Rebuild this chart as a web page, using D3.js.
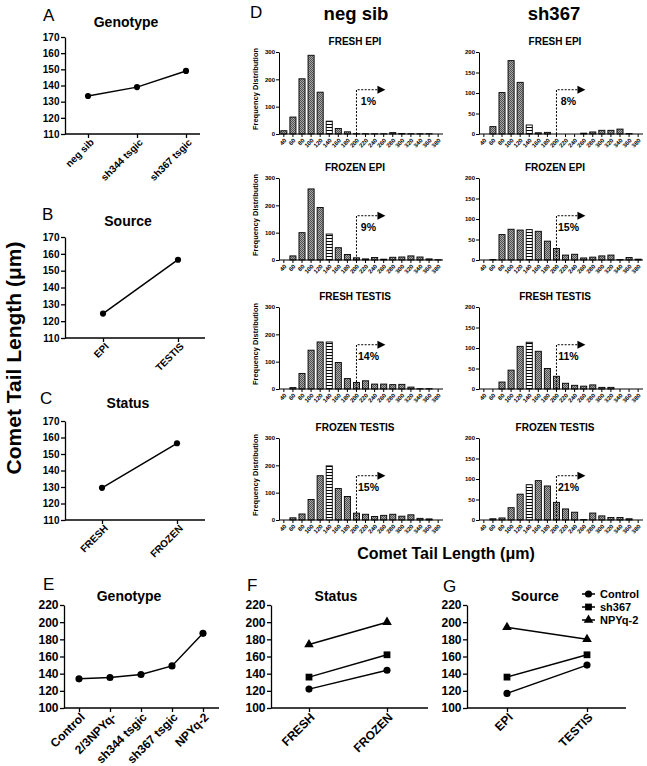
<!DOCTYPE html>
<html><head><meta charset="utf-8">
<script src="https://cdn.jsdelivr.net/npm/d3@7"></script>
<style>
body{margin:0;background:#fff;}
svg{display:block;font-family:Arial,"Liberation Sans",sans-serif;}
</style></head><body>
<svg id="c" width="647" height="766"></svg>
<script>
// ---------- DATA ----------
const genoA = ["neg sib", "sh344 tsgic", "sh367 tsgic"];
const genoAVals = [133.5, 139, 149];
const sourceCats = ["EPI", "TESTIS"];
const sourceVals = [124.5, 156.5];
const statusCats = ["FRESH", "FROZEN"];
const statusVals = [129.5, 156.5];
const ticksABC = [110, 120, 130, 140, 150, 160, 170];

const binLabels = [40, 60, 80, 100, 120, 140, 160, 180, 200, 220, 240, 260, 280, 300, 320, 340, 360, 380];
const stripedBin = 140;
const histTitles = ["FRESH EPI", "FROZEN EPI", "FRESH TESTIS", "FROZEN TESTIS"];
const negFreshEpi    = [12, 62, 202, 288, 153, 47, 20, 8, 1, 1, 1, 1, 5, 2, 1, 1, 1, 0];
const negFrozenEpi   = [0, 15, 100, 260, 192, 95, 45, 20, 8, 4, 9, 3, 10, 11, 15, 11, 4, 1];
const negFreshTestis = [0, 5, 57, 142, 172, 172, 97, 38, 24, 30, 18, 18, 16, 17, 7, 1, 1, 0];
const negFrozenTestis= [0, 8, 22, 75, 162, 198, 115, 86, 25, 21, 13, 17, 21, 14, 19, 6, 4, 0];
const shFreshEpi     = [0, 18, 101, 179, 126, 22, 3, 4, 0, 0, 0, 2, 5, 9, 9, 12, 1, 0];
const shFrozenEpi    = [0, 1, 62, 75, 73, 74, 70, 46, 28, 12, 14, 5, 7, 10, 12, 1, 6, 2];
const shFreshTestis  = [0, 0, 17, 46, 104, 114, 92, 50, 31, 14, 9, 7, 10, 4, 4, 0, 0, 0];
const shFrozenTestis = [0, 3, 5, 30, 63, 86, 96, 83, 43, 27, 19, 1, 17, 10, 6, 6, 3, 0];
const pctNeg = ["1%", "9%", "14%", "15%"];
const pctSh  = ["8%", "15%", "11%", "21%"];
const negTicks = [0, 100, 200, 300];
const shTicks = [0, 50, 100, 150, 200];

const genoE = ["Control", "2/3NPYq-", "sh344 tsgic", "sh367 tsgic", "NPYq-2"];
const genoEVals = [134, 135.5, 139, 149, 187];
const seriesNames = ["Control", "sh367", "NPYq-2"];
const statusControl = [122, 144];
const statusSh367 = [136, 162];
const statusNPY = [174, 200];
const sourceControl = [117, 150];
const sourceSh367 = [136, 162];
const sourceNPY = [194, 180];
const ticksEFG = [100, 120, 140, 160, 180, 200, 220];

// ---------- DRAW ----------
const svg = d3.select("#c");
const defs = svg.append("defs");
const pg = defs.append("pattern").attr("id", "hatch").attr("patternUnits", "userSpaceOnUse").attr("width", 2).attr("height", 2);
pg.append("rect").attr("width", 2).attr("height", 2).attr("fill", "#a8a8a8");
pg.append("rect").attr("width", 1).attr("height", 1).attr("fill", "#505050");
pg.append("rect").attr("x", 1).attr("y", 1).attr("width", 1).attr("height", 1).attr("fill", "#505050");
const ps = defs.append("pattern").attr("id", "stripe").attr("patternUnits", "userSpaceOnUse").attr("width", 4).attr("height", 3);
ps.append("rect").attr("width", 4).attr("height", 3).attr("fill", "#fff");
ps.append("rect").attr("y", 1).attr("width", 4).attr("height", 1).attr("fill", "#000");

const symType = {"Control": d3.symbolCircle, "sh367": d3.symbolSquare, "NPYq-2": d3.symbolTriangle};
const symSize = {"Control": 40, "sh367": 46, "NPYq-2": 40};

function styleAxis(sel, fs) {
  sel.attr("font-family", null).attr("font-size", null);
  sel.selectAll(".tick text").attr("font-size", fs).attr("font-weight", "bold").attr("fill", "#000");
  sel.selectAll(".tick line").attr("stroke", "#000").attr("stroke-width", 1.3);
  sel.selectAll(".domain").attr("stroke", "#000").attr("stroke-width", 1.3);
}

function lineChart(o) {
  const g = svg.append("g");
  const x = d3.scalePoint().domain(o.cats).range(o.pts);
  const y = d3.scaleLinear().domain(o.dom).range([o.yb, o.yt]);
  const ya = g.append("g").attr("transform", `translate(${o.xa},0)`)
    .call(d3.axisLeft(y).tickValues(o.ticks).tickSize(4).tickSizeOuter(0).tickPadding(1.5));
  styleAxis(ya, o.fs);
  const xa = g.append("g").attr("transform", `translate(0,${o.yb})`)
    .call(d3.axisBottom(x).tickSize(4).tickSizeOuter(0));
  xa.select(".domain").remove();
  styleAxis(xa, o.fs);
  xa.selectAll(".tick text").attr("y", 0).attr("dy", null).attr("text-anchor", "end")
    .attr("transform", `translate(${o.lx0},${o.lo}) rotate(-45)`);
  g.append("line").attr("x1", o.xa).attr("x2", o.xe).attr("y1", o.yb).attr("y2", o.yb)
    .attr("stroke", "#000").attr("stroke-width", 1.3);
  o.series.forEach(s => {
    g.append("path").datum(s.vals)
      .attr("d", d3.line().x((d, i) => x(o.cats[i])).y(d => y(d)))
      .attr("fill", "none").attr("stroke", "#000").attr("stroke-width", 1.5);
    g.selectAll(null).data(s.vals).join("path")
      .attr("transform", (d, i) => `translate(${x(o.cats[i])},${y(d)})`)
      .attr("d", d3.symbol().type(symType[s.name]).size(o.ms || symSize[s.name]))
      .attr("fill", "#000");
  });
  g.append("text").attr("x", o.tx).attr("y", o.ty).attr("text-anchor", "middle")
    .attr("font-size", 14).attr("font-weight", "bold").text(o.title);
  g.append("text").attr("x", o.lx).attr("y", o.ly).attr("font-size", 17).text(o.letter);
}

lineChart({cats: genoA, pts: [88, 186], dom: [110, 170], ticks: ticksABC, yt: 37, yb: 134, xa: 65, xe: 200, fs: 10, lx0: 6, lo: 9,
  series: [{name: "Control", vals: genoAVals}], ms: 30, title: "Genotype", tx: 126, ty: 27, letter: "A", lx: 43, ly: 21});
lineChart({cats: sourceCats, pts: [103, 178], dom: [110, 170], ticks: ticksABC, yt: 237, yb: 338, xa: 65, xe: 205, fs: 10, lx0: 6, lo: 9,
  series: [{name: "Control", vals: sourceVals}], ms: 30, title: "Source", tx: 128, ty: 226, letter: "B", lx: 42, ly: 220});
lineChart({cats: statusCats, pts: [102, 177], dom: [110, 170], ticks: ticksABC, yt: 421, yb: 520, xa: 65, xe: 205, fs: 10, lx0: 6, lo: 9,
  series: [{name: "Control", vals: statusVals}], ms: 30, title: "Status", tx: 128, ty: 408, letter: "C", lx: 40, ly: 404});

lineChart({cats: genoE, pts: [79, 203], dom: [100, 220], ticks: ticksEFG, yt: 605, yb: 708, xa: 64, xe: 219, fs: 12, lx0: 6, lo: 10,
  series: [{name: "Control", vals: genoEVals}], ms: 40, title: "Genotype", tx: 129, ty: 601, letter: "E", lx: 43, ly: 590});
lineChart({cats: statusCats, pts: [309, 387], dom: [100, 220], ticks: ticksEFG, yt: 605, yb: 708, xa: 271, xe: 428, fs: 12, lx0: 6, lo: 10,
  series: [{name: "Control", vals: statusControl}, {name: "sh367", vals: statusSh367}, {name: "NPYq-2", vals: statusNPY}],
  title: "Status", tx: 336, ty: 601, letter: "F", lx: 247, ly: 591});
lineChart({cats: sourceCats, pts: [507, 587], dom: [100, 220], ticks: ticksEFG, yt: 605, yb: 708, xa: 467, xe: 626, fs: 12, lx0: 6, lo: 10,
  series: [{name: "Control", vals: sourceControl}, {name: "sh367", vals: sourceSh367}, {name: "NPYq-2", vals: sourceNPY}],
  title: "Source", tx: 535, ty: 601, letter: "G", lx: 443, ly: 592});

// legend
const lg = svg.append("g");
lg.append("rect").attr("x", 575).attr("y", 585).attr("width", 72).attr("height", 42).attr("fill", "#fff");
seriesNames.forEach((n, i) => {
  const cy = 594 + i * 13;
  lg.append("line").attr("x1", 582).attr("x2", 595).attr("y1", cy).attr("y2", cy).attr("stroke", "#000").attr("stroke-width", 1.5);
  lg.append("path").attr("transform", `translate(588.5,${cy})`).attr("d", d3.symbol().type(symType[n]).size(symSize[n])).attr("fill", "#000");
  lg.append("text").attr("x", 600).attr("y", cy).attr("dy", "0.36em").attr("font-size", 11).attr("font-weight", "bold").text(n);
});

// histograms
function hist(o) {
  const g = svg.append("g");
  const x = d3.scaleBand().domain(binLabels).range([o.x0, o.x0 + 164]).paddingInner(0.33).paddingOuter(0.2);
  const y = d3.scaleLinear().domain([0, o.ymax]).range([o.yb, o.yt]);
  const bw = x.bandwidth();
  g.selectAll(null).data(binLabels.map((b, i) => ({b, v: o.vals[i]})).filter(d => d.v > 0)).join("rect")
    .attr("x", d => x(d.b)).attr("y", d => y(d.v)).attr("width", bw).attr("height", d => o.yb - y(d.v))
    .attr("fill", d => d.b === stripedBin ? "url(#stripe)" : "url(#hatch)")
    .attr("stroke", "#000").attr("stroke-width", 0.9);
  const ya = g.append("g").attr("transform", `translate(${o.x0},0)`)
    .call(d3.axisLeft(y).tickValues(o.ticks).tickSize(3).tickSizeOuter(0).tickPadding(1));
  styleAxis(ya, 6);
  ya.selectAll(".tick line, .domain").attr("stroke-width", 1);
  const xa = g.append("g").attr("transform", `translate(0,${o.yb})`)
    .call(d3.axisBottom(x).tickSize(3).tickSizeOuter(0));
  styleAxis(xa, 6);
  xa.selectAll(".tick line, .domain").attr("stroke-width", 1);
  xa.select(".domain").attr("d", `M${o.x0},0H${o.x0 + 164}`);
  xa.selectAll(".tick text").attr("y", 0).attr("dy", null).attr("text-anchor", "end")
    .attr("transform", "translate(3,7) rotate(-45)");
  g.append("text").attr("x", o.x0 + 76).attr("y", o.yt - 7).attr("text-anchor", "middle")
    .attr("font-size", 10).attr("font-weight", "bold").text(o.title);
  if (o.ylab) {
    g.append("text").attr("transform", `translate(${o.x0 - 21},${(o.yt + o.yb) / 2 - 4}) rotate(-90)`)
      .attr("text-anchor", "middle").attr("font-size", 7.5).attr("font-weight", "bold").text("Frequency Distribution");
  }
  const ax = x(200) + bw / 2;
  const ay = o.yb - (o.yb - o.yt) * 0.54;
  g.append("path").attr("d", `M${ax},${o.yb}V${ay}H${ax + 21}`).attr("fill", "none")
    .attr("stroke", "#000").attr("stroke-width", 1).attr("stroke-dasharray", "2,1.5");
  g.append("path").attr("d", `M${ax + 21},${ay - 4}L${ax + 29},${ay}L${ax + 21},${ay + 4}Z`).attr("fill", "#000");
  g.append("text").attr("x", ax + 12).attr("y", ay + 15).attr("text-anchor", "middle")
    .attr("font-size", 10.5).attr("font-weight", "bold").text(o.pct);
}

const rowTops = [52, 178, 307, 438];
const negData = [negFreshEpi, negFrozenEpi, negFreshTestis, negFrozenTestis];
const shData = [shFreshEpi, shFrozenEpi, shFreshTestis, shFrozenTestis];
rowTops.forEach((t, i) => {
  hist({x0: 279, yt: t, yb: t + 82, vals: negData[i], ymax: 300, ticks: negTicks, title: histTitles[i], pct: pctNeg[i], ylab: true});
  hist({x0: 479, yt: t, yb: t + 82, vals: shData[i], ymax: 200, ticks: shTicks, title: histTitles[i], pct: pctSh[i], ylab: false});
});

// headers and shared labels
svg.append("text").attr("x", 250).attr("y", 18).attr("font-size", 17).text("D");
svg.append("text").attr("x", 356).attr("y", 20).attr("text-anchor", "middle").attr("font-size", 18.5).attr("font-weight", "bold").text("neg sib");
svg.append("text").attr("x", 554).attr("y", 20).attr("text-anchor", "middle").attr("font-size", 18.5).attr("font-weight", "bold").text("sh367");
svg.append("text").attr("x", 446).attr("y", 559).attr("text-anchor", "middle").attr("font-size", 16).attr("font-weight", "bold").text("Comet Tail Length (\u03bcm)");
svg.append("text").attr("transform", "translate(21,358) rotate(-90)").attr("text-anchor", "middle")
  .attr("font-size", 21).attr("font-weight", "bold").text("Comet Tail Length (\u03bcm)");
</script>
</body></html>
